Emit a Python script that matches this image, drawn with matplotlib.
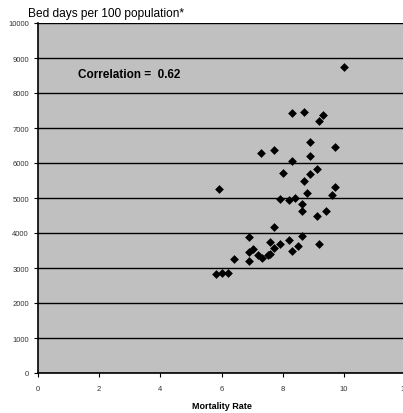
import matplotlib
matplotlib.use("Agg")
import matplotlib.pyplot as plt

# Mortality rate vs bed days per 100 population
mortality = [
    8.31, 8.71, 9.31, 9.20, 8.91, 9.71, 7.30, 7.71, 8.31, 8.91,
    8.01, 9.11, 8.91, 8.71, 5.92, 9.71, 9.61, 8.81, 7.91, 8.21,
    8.41, 8.62, 8.62, 9.11, 9.41, 7.71, 6.91, 8.62, 7.60, 8.21,
    7.91, 9.20, 7.02, 6.91, 7.71, 8.51, 8.31, 7.20, 7.31, 7.51,
    7.60, 6.41, 6.91, 5.81, 6.00, 6.21, 10.01,
]
bed_days = [
    7430, 7450, 7360, 7200, 6610, 6450, 6300, 6370, 6070, 6190,
    5710, 5820, 5690, 5490, 5260, 5320, 5100, 5150, 4970, 4950,
    4990, 4820, 4630, 4500, 4630, 4160, 3900, 3920, 3740, 3800,
    3700, 3700, 3540, 3470, 3580, 3620, 3500, 3380, 3290, 3380,
    3400, 3260, 3190, 2820, 2860, 2870, 8730,
]
correlation = 0.62

plt.rcParams["font.family"] = ["Liberation Sans", "DejaVu Sans"]

fig = plt.figure(figsize=(4.03, 4.14), dpi=100)
ax = fig.add_axes([38 / 403, 1 - 374 / 414, 367 / 403, 350 / 414])
ax.set_facecolor("#c0c0c0")

ax.scatter(mortality, bed_days, marker="D", s=20, color="black", zorder=3, linewidths=0)

ax.set_xlim(0, 12)
ax.set_ylim(0, 10000)
ax.set_xticks(range(0, 13, 2))
ax.set_yticks(range(0, 10001, 1000))
ax.yaxis.grid(True, color="black", linewidth=1)
ax.set_axisbelow(True)
ax.tick_params(axis="both", labelsize=5.5, direction="out", length=3, width=0.8,
               colors="black", labelcolor="#333333")
ax.tick_params(axis="x", pad=6)
for side in ("top", "right"):
    ax.spines[side].set_visible(False)
for side in ("left", "bottom"):
    ax.spines[side].set_linewidth(1.2)

ax.set_xlabel("Mortality Rate", fontsize=6.5, fontweight="bold", labelpad=6)
fig.text(28 / 403, 1 - 14 / 414, "Bed days per 100 population*", fontsize=8.6,
         ha="left", va="center")
ax.text(1.3, 8540, f"Correlation =  {correlation:.2f}", fontsize=8.5,
        fontweight="bold", ha="left", va="center")

fig.savefig("out.png", dpi=100)
